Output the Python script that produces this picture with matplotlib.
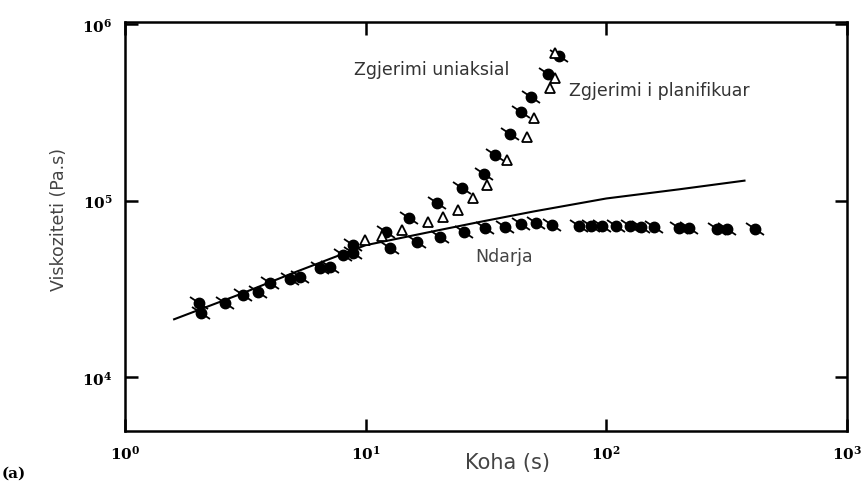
import matplotlib
matplotlib.use("Agg")
import matplotlib.pyplot as plt
from matplotlib.markers import MarkerStyle
from matplotlib.transforms import Affine2D

# shear viscosity (Ndarja) - filled circles
shear_t = [2.03, 2.07, 2.6, 3.09, 3.56, 4.0, 4.84, 5.32, 6.44, 7.09, 8.03, 8.84,
           12.6, 16.3, 20.3, 25.7, 31.2, 37.8, 44.4, 51.2, 59.7, 77.3, 86.6, 96.2,
           110, 125, 140, 158, 201, 221, 289, 318, 415]
shear_eta = [2.65e4, 2.3e4, 2.65e4, 2.91e4, 3.06e4, 3.44e4, 3.58e4, 3.72e4, 4.18e4, 4.24e4,
             4.95e4, 5.08e4, 5.42e4, 5.8e4, 6.27e4, 6.69e4, 7.03e4, 7.13e4, 7.4e4, 7.5e4,
             7.3e4, 7.22e4, 7.22e4, 7.22e4, 7.22e4, 7.22e4, 7.13e4, 7.13e4, 7.03e4, 7.03e4,
             6.94e4, 6.94e4, 6.94e4]

# uniaxial extension - filled circles
uni_t = [8.84, 12.2, 15.2, 19.7, 25.2, 30.9, 34.6, 39.6, 44.0, 48.8, 57.5, 63.8]
uni_eta = [5.64e4, 6.69e4, 8.02e4, 9.75e4, 1.18e5, 1.42e5, 1.82e5, 2.39e5, 3.19e5,
           3.87e5, 5.23e5, 6.6e5]

# planar extension - open triangles
plan_t = [9.9, 11.7, 14.2, 18.1, 20.9, 24.1, 27.8, 31.8, 38.8, 46.6, 50.2, 58.6, 61.4, 61.0]
plan_eta = [6.03e4, 6.3e4, 6.85e4, 7.61e4, 8.12e4, 8.9e4, 1.03e5, 1.23e5, 1.71e5, 2.3e5,
            2.95e5, 4.36e5, 4.96e5, 6.85e5]

# linear viscoelastic line
lve_t = [1.6, 3, 5, 10, 20, 30, 50, 100, 200, 375]
lve_eta = [2.13e4, 2.95e4, 3.9e4, 5.6e4, 6.8e4, 7.6e4, 8.7e4, 1.03e5, 1.16e5, 1.30e5]

xtick_vals = [1, 10, 100, 1000]
xtick_labels = [r'$\mathbf{10^{0}}$', r'$\mathbf{10^{1}}$', r'$\mathbf{10^{2}}$',
                r'$\mathbf{10^{3}}$']
ytick_vals = [1e4, 1e5, 1e6]
ytick_labels = [r'$\mathbf{10^{4}}$', r'$\mathbf{10^{5}}$', r'$\mathbf{10^{6}}$']

plt.rcParams['mathtext.fontset'] = 'dejavuserif'

fig = plt.figure(figsize=(8.62, 4.85), dpi=100)
ax = fig.add_axes([0.145, 0.109, 0.8376, 0.8436])

ax.plot(lve_t, lve_eta, color='black', lw=1.5, zorder=2)

# little tails on the filled circles
tail = MarkerStyle('_', transform=Affine2D().rotate_deg(-35))
for t, e in [(shear_t, shear_eta), (uni_t, uni_eta)]:
    ax.plot(t, e, ls='none', marker=tail, ms=15, mew=1.3, color='black', zorder=3)
    ax.plot(t, e, ls='none', marker='o', ms=7.5, color='black', zorder=4)

ax.plot(plan_t, plan_eta, ls='none', marker='^', ms=6.5, mfc='white', mec='black',
        mew=1.3, zorder=5)

ax.set_xscale('log')
ax.set_yscale('log')
ax.set_xlim(1, 1000)
ax.set_ylim(4950, 1.03e6)
ax.minorticks_off()
ax.set_xticks(xtick_vals)
ax.set_yticks(ytick_vals)
ax.set_xticklabels(xtick_labels)
ax.set_yticklabels(ytick_labels)
ax.tick_params(which='both', direction='in', length=9, width=1.8, top=True, right=True,
               labelsize=11)
ax.tick_params(axis='y', pad=9)
ax.tick_params(axis='x', pad=9)
for s in ax.spines.values():
    s.set_linewidth(1.8)

ax.set_xlabel('Koha (s)', family='DejaVu Sans', fontsize=15, color='#444444')
ax.xaxis.set_label_coords(0.53, -0.05)
ax.set_ylabel('Viskoziteti (Pa.s)', family='DejaVu Sans', fontsize=12.5,
              color='#444444')
ax.yaxis.set_label_coords(-0.079, 0.52)

ax.text(0.425, 0.885, 'Zgjerimi uniaksial', transform=ax.transAxes, ha='center',
        va='center', family='DejaVu Sans', fontsize=12.5, color='#333333')
ax.text(0.615, 0.834, 'Zgjerimi i planifikuar', transform=ax.transAxes, ha='left',
        va='center', family='DejaVu Sans', fontsize=12.5, color='#333333')
ax.text(0.525, 0.428, 'Ndarja', transform=ax.transAxes, ha='center',
        va='center', family='DejaVu Sans', fontsize=12.5, color='#444444')

fig.text(0.002, 0.015, '(a)', family='DejaVu Serif', fontsize=11, fontweight='bold')

fig.savefig('out.png', dpi=100)
